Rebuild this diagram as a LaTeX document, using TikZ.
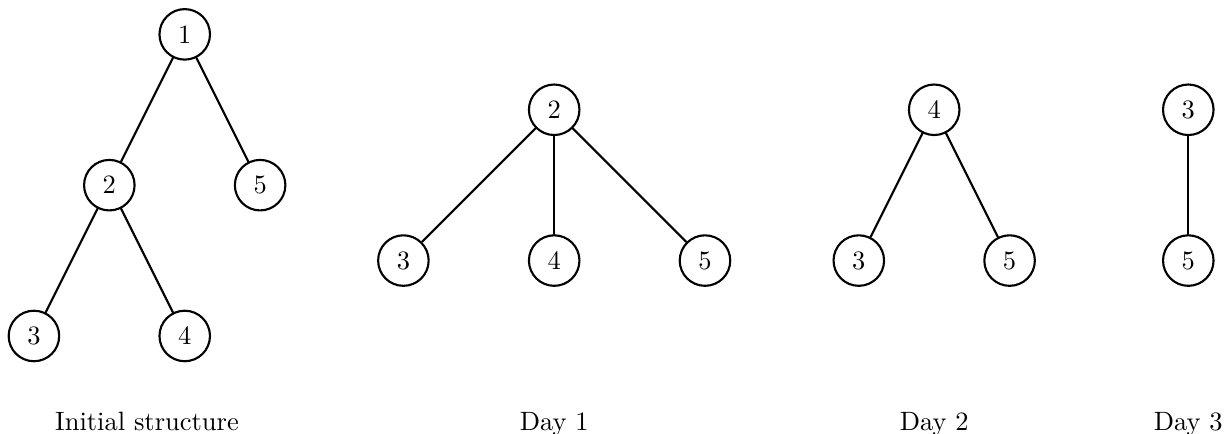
\documentclass[tikz,border=0pt]{standalone}
\usetikzlibrary{calc}

\begin{document}
\begin{tikzpicture}[line cap=round, line join=round,
	vertex/.style={circle, draw, thick, minimum size=0.67cm, inner sep=0pt},
	edge/.style={thick},
	caption/.style={anchor=base}]
	
	\useasboundingbox (0,0) rectangle (16.313,5.756);
	
	%========================
	% Initial structure
	%========================
	\begin{scope}[shift={(2.45,5.30)}]
		\node[vertex] (a1) at (0,0) {1};
		\node[vertex] (a2) at (-1,-2) {2};
		\node[vertex] (a5) at (1,-2) {5};
		\node[vertex] (a3) at (-2,-4) {3};
		\node[vertex] (a4) at (0,-4) {4};
		% edges
		\draw[edge] (a1) -- (a2);
		\draw[edge] (a1) -- (a5);
		\draw[edge] (a2) -- (a3);
		\draw[edge] (a2) -- (a4);
		\node[caption] (capA) at (-0.5,-5.26) {Initial structure};
	\end{scope}
	
	%========================
	% Day 1
	%========================
	\begin{scope}[shift={(7.35,4.30)}]
		\node[vertex] (b2) at (0,0) {2};
		\node[vertex] (b3) at (-2,-2) {3};
		\node[vertex] (b4) at (0,-2) {4};
		\node[vertex] (b5) at (2,-2) {5};
		\draw[edge] (b2) -- (b3);
		\draw[edge] (b2) -- (b4);
		\draw[edge] (b2) -- (b5);
		\node[caption] (capB) at (0,-4.26) {Day 1};
	\end{scope}
	
	%========================
	% Day 2
	%========================
	\begin{scope}[shift={(12.39,4.30)}]
		\node[vertex] (c4) at (0,0) {4};
		\node[vertex] (c3) at (-1,-2) {3};
		\node[vertex] (c5) at (1,-2) {5};
		\draw[edge] (c4) -- (c3);
		\draw[edge] (c4) -- (c5);
		\node[caption] (capC) at (0,-4.26) {Day 2};
	\end{scope}
	
	%========================
	% Day 3
	%========================
	\begin{scope}[shift={(15.76,4.30)}]
		\node[vertex] (d3) at (0,0) {3};
		\node[vertex] (d5) at (0,-2) {5};
		\draw[edge] (d3) -- (d5);
		\node[caption] (capD) at (0,-4.26) {Day 3};
	\end{scope}
	
\end{tikzpicture}
\end{document}
